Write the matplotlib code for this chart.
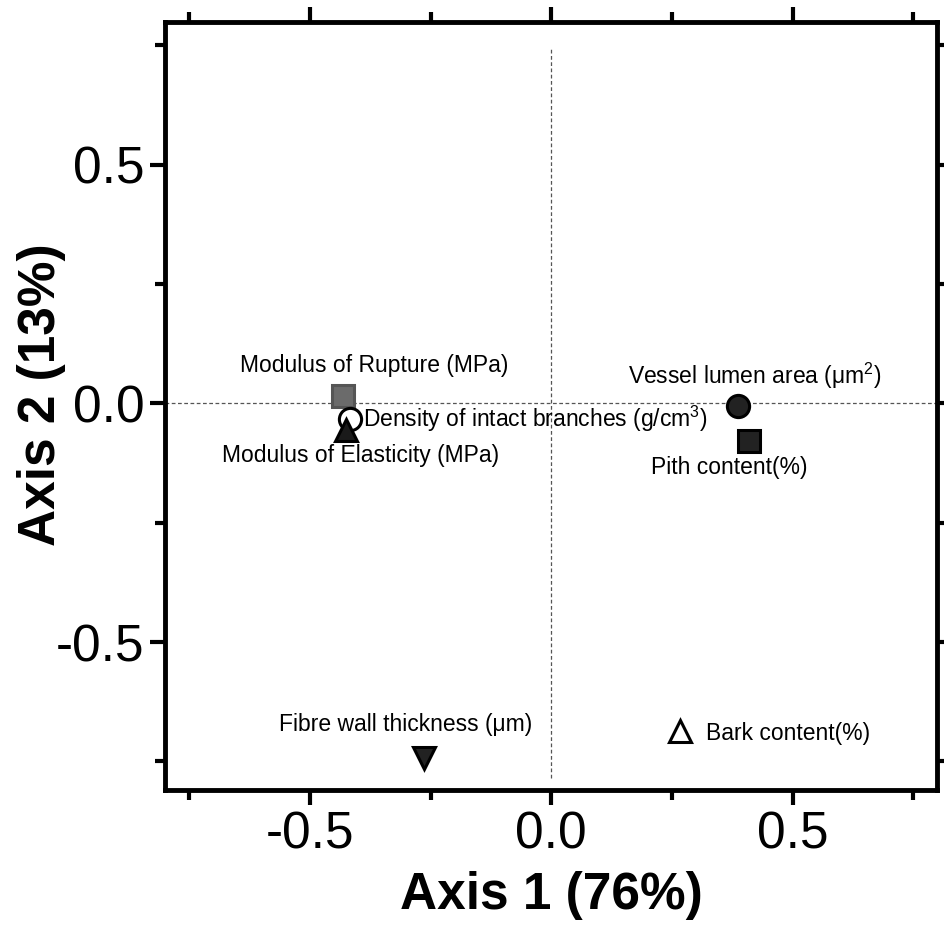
import matplotlib
matplotlib.use('Agg')
import matplotlib.pyplot as plt
from matplotlib.ticker import MultipleLocator

# PCA loadings of the wood / branch properties
traits = ['Modulus of Rupture (MPa)',
          r'Density of intact branches (g/cm$\mathregular{^3}$)',
          'Modulus of Elasticity (MPa)',
          'Vessel lumen area (\u03bcm' + r'$\mathregular{^2}$)',
          'Pith content(%)',
          'Fibre wall thickness (\u03bcm)',
          'Bark content(%)']
axis1 = [-0.432, -0.417, -0.425, 0.386, 0.410, -0.264, 0.266]
axis2 = [0.015, -0.032, -0.055, -0.006, -0.078, -0.743, -0.686]

# marker style per trait: (marker, face, edge)
styles = [('s', '#6b6b6b', '#555555'),
          ('o', 'white', 'black'),
          ('^', '#1a1a1a', 'black'),
          ('o', '#222222', 'black'),
          ('s', '#222222', 'black'),
          ('v', '#222222', 'black'),
          ('^', 'white', 'black')]

# label placement relative to marker, in pixels
label_offsets = [(31, 31, 'center'),
                 (13, 0, 'left'),
                 (14, -26, 'center'),
                 (17, 30, 'center'),
                 (-20, -27, 'center'),
                 (-18, 34, 'center'),
                 (26, -3, 'left')]

plt.rcParams['font.family'] = ['Liberation Sans', 'DejaVu Sans']
plt.rcParams['mathtext.fontset'] = 'custom'
plt.rcParams['mathtext.rm'] = 'Liberation Sans'
plt.rcParams['axes.unicode_minus'] = False

fig = plt.figure(figsize=(9.44, 9.36), dpi=100)
ax = fig.add_axes([0.175, 0.156, 0.818, 0.821])

# dashed zero lines
ax.axhline(0, color='#555555', lw=0.9, ls=(0, (3, 2)), zorder=1)
ax.axvline(0, ymin=0.016, ymax=0.966, color='#555555', lw=0.9, ls=(0, (3, 2)), zorder=1)

for name, x, y, (m, fc, ec), (dx, dy, ha) in zip(traits, axis1, axis2, styles, label_offsets):
    ax.plot(x, y, marker=m, markersize=16, markerfacecolor=fc,
            markeredgecolor=ec, markeredgewidth=2.2, ls='none', zorder=3)
    ax.annotate(name, (x, y), xytext=(dx, dy), textcoords='offset pixels',
                ha=ha, va='center', fontsize=16.5, zorder=4)

ax.set_xlim(-0.8, 0.8)
ax.set_ylim(-0.81, 0.8)
ax.xaxis.set_major_locator(MultipleLocator(0.5))
ax.xaxis.set_minor_locator(MultipleLocator(0.25))
ax.yaxis.set_major_locator(MultipleLocator(0.5))
ax.yaxis.set_minor_locator(MultipleLocator(0.25))

for s in ax.spines.values():
    s.set_linewidth(3.5)
ax.tick_params(which='both', direction='out', top=True, right=True,
               width=3, labelsize=37, pad=4)
ax.tick_params(which='major', length=11)
ax.tick_params(which='minor', length=7)

ax.set_xlabel('Axis 1 (76%)', fontsize=37, fontweight='bold', labelpad=8)
ax.set_ylabel('Axis 2 (13%)', fontsize=37, fontweight='bold')
ax.yaxis.set_label_coords(-0.128, 0.515)

fig.savefig('out.png', dpi=100)
